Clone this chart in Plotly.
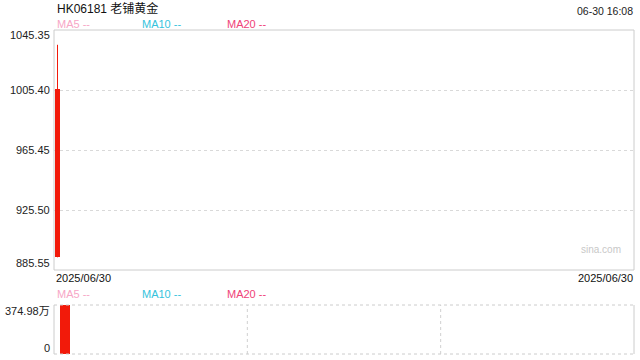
import plotly.graph_objects as go

# ---- data ----
dates = ["2025/06/30"]
opens = [894.0]
closes = [1006.0]
highs = [1035.5]
lows = [894.0]
volumes_wan = [374.98]          # volume in 万
price_ticks = [1045.35, 1005.40, 965.45, 925.50, 885.55]
vol_ticks = [374.98, 0]
vol_tick_labels = ["374.98万", "0"]
title_text = "HK06181 老铺黄金"
time_text = "06-30 16:08"
ma_names = ["MA5 --", "MA10 --", "MA20 --"]
ma_colors = ["#f7a6c6", "#35c3dd", "#ef4278"]

W, H = 640, 360
L, R = 54, 634
MAIN_T, MAIN_B = 30, 270
VOL_T, VOL_B = 305, 354
RED = "#f21a0a"
FONT = "Liberation Sans, Arial, Noto Sans CJK SC, sans-serif"

def px(x):
    return x / W

def py(y):
    return 1 - y / H

xi = list(range(len(dates)))

fig = go.Figure()
# candle body
fig.add_trace(go.Bar(x=xi, y=[c - o for o, c in zip(opens, closes)], base=opens,
                     width=1, marker=dict(color=RED, line=dict(width=0)),
                     xaxis="x", yaxis="y", showlegend=False, hoverinfo="skip"))
# wick
for i, (lo, hi) in enumerate(zip(lows, highs)):
    fig.add_trace(go.Scatter(x=[xi[i], xi[i]], y=[lo, hi], mode="lines",
                             line=dict(color=RED, width=1), xaxis="x", yaxis="y",
                             showlegend=False, hoverinfo="skip"))
# volume
fig.add_trace(go.Bar(x=xi, y=volumes_wan, width=1,
                     marker=dict(color=RED, line=dict(width=0)),
                     xaxis="x2", yaxis="y2", showlegend=False, hoverinfo="skip"))

fig.update_layout(
    width=W, height=H, margin=dict(l=0, r=0, t=0, b=0),
    paper_bgcolor="white", plot_bgcolor="white",
    font=dict(family=FONT, size=11, color="#222"),
    bargap=0,
    xaxis=dict(domain=[px(L), px(R)], range=[-0.7, 115.3], anchor="y",
               showgrid=False, zeroline=False, showticklabels=False, fixedrange=True),
    yaxis=dict(domain=[py(MAIN_B), py(MAIN_T)], range=[price_ticks[-1], price_ticks[0]],
               tickvals=price_ticks[1:-1], showticklabels=False, showgrid=True,
               gridcolor="#d9d9d9", griddash="dot", gridwidth=1, zeroline=False, anchor="x"),
    xaxis2=dict(domain=[px(L), px(R)], range=[-1.1, 56.9], anchor="y2",
                showgrid=False, zeroline=False, showticklabels=False),
    yaxis2=dict(domain=[py(VOL_B), py(VOL_T)], range=[0, vol_ticks[0]], anchor="x2",
                showgrid=False, zeroline=False, showticklabels=False),
)

shapes = []
# main border
shapes.append(dict(type="rect", xref="x domain", yref="y domain", x0=0, x1=1, y0=0, y1=1,
                   line=dict(color="#cccccc", width=1), layer="above"))
# volume frame
shapes.append(dict(type="line", xref="x2 domain", yref="y2 domain", x0=0, x1=1, y0=1, y1=1,
                   line=dict(color="#cccccc", width=1, dash="dot")))
shapes.append(dict(type="line", xref="x2 domain", yref="y2 domain", x0=0, x1=1, y0=0, y1=0,
                   line=dict(color="#cccccc", width=1, dash="dot")))
shapes.append(dict(type="line", xref="x2 domain", yref="y2 domain", x0=0, x1=0, y0=0, y1=1,
                   line=dict(color="#cccccc", width=1)))
shapes.append(dict(type="line", xref="x2 domain", yref="y2 domain", x0=1, x1=1, y0=0, y1=1,
                   line=dict(color="#cccccc", width=1)))
for f in (1 / 3, 2 / 3):
    shapes.append(dict(type="line", xref="x2 domain", yref="y2 domain", x0=f, x1=f, y0=0, y1=1,
                       line=dict(color="#d0d0d0", width=1, dash="dot")))
fig.update_layout(shapes=shapes)

ann = []
ann.append(dict(text=title_text, x=px(55), y=py(8), xref="paper", yref="paper",
                xanchor="left", yanchor="middle", showarrow=False,
                font=dict(size=12, color="#111")))
ann.append(dict(text=time_text, x=px(635), y=py(11), xref="paper", yref="paper",
                xanchor="right", yanchor="middle", showarrow=False,
                font=dict(size=10.5, color="#222")))
ma_x = [55, 140, 225]
for yy in (24, 294):
    for name, col, xx in zip(ma_names, ma_colors, ma_x):
        ann.append(dict(text=name, x=px(xx), y=py(yy), xref="paper", yref="paper",
                        xanchor="left", yanchor="middle", showarrow=False,
                        font=dict(size=11, color=col)))
# price tick labels
for i, v in enumerate(price_ticks):
    ys = 0
    if i == 0:
        ys = -5
    elif i == len(price_ticks) - 1:
        ys = 7
    ann.append(dict(text=f"{v:.2f}", x=px(52), y=v, xref="paper", yref="y",
                    xanchor="right", yanchor="middle", yshift=ys, showarrow=False,
                    font=dict(size=11, color="#222")))
# volume tick labels
for v, t, ys in zip(vol_ticks, vol_tick_labels, [-6, 6]):
    ann.append(dict(text=t, x=px(52), y=v, xref="paper", yref="y2",
                    xanchor="right", yanchor="middle", yshift=ys, showarrow=False,
                    font=dict(size=11, color="#222")))
# date labels
ann.append(dict(text=dates[0], x=px(54), y=py(278), xref="paper", yref="paper",
                xanchor="left", yanchor="middle", showarrow=False, font=dict(size=11, color="#111")))
ann.append(dict(text=dates[-1], x=px(635), y=py(278), xref="paper", yref="paper",
                xanchor="right", yanchor="middle", showarrow=False, font=dict(size=11, color="#111")))
ann.append(dict(text="sina.com", x=px(623), y=py(249), xref="paper", yref="paper",
                xanchor="right", yanchor="middle", showarrow=False, font=dict(size=10, color="#c8c8c8")))
fig.update_layout(annotations=ann)

fig.write_html("out.html")
